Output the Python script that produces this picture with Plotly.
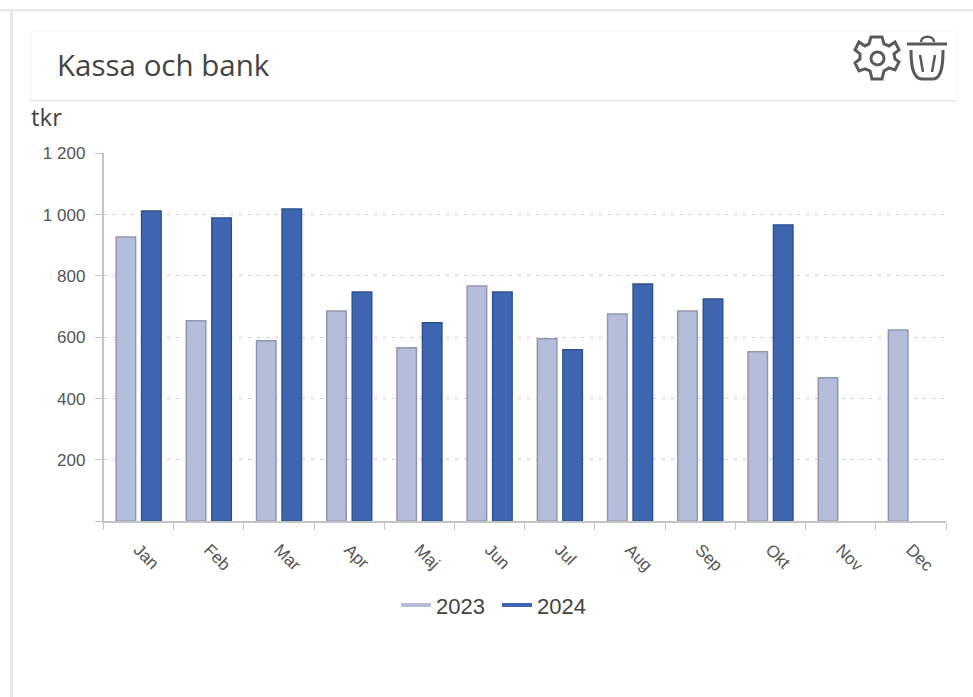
import plotly.graph_objects as go

W, H = 973, 697
TOP, DRAWN = 8, 689  # the page photographs the figure 8px down and 689px tall
months = ["Jan", "Feb", "Mar", "Apr", "Maj", "Jun", "Jul", "Aug", "Sep", "Okt", "Nov", "Dec"]
v2023 = [927, 654, 589, 686, 566, 767, 595, 676, 686, 553, 468, 624]
v2024 = [1012, 989, 1018, 748, 647, 748, 559, 774, 725, 966, None, None]
ytickvals = [0, 200, 400, 600, 800, 1000, 1200]
yticktext = ["", "200", "400", "600", "800", "1 000", "1 200"]
LIGHT, LIGHT_EDGE = "#B4BDD9", "#9097AE"
DARK, DARK_EDGE = "#3F67B1", "#2F528F"


def px(x):
    return x / W


def py(y):
    return 1 - (y - TOP) / DRAWN


def P(d):
    """Pixel path (x,y tokens) to paper coordinates."""
    out = []
    toks = d.split()
    i = 0
    while i < len(toks):
        t = toks[i]
        if t in "MLCQZ":
            out.append(t)
            i += 1
        else:
            out.append(f"{px(float(t)):.5f},{py(float(toks[i+1])):.5f}")
            i += 2
    return " ".join(out)


fig = go.Figure()
fig.add_bar(x=months, y=v2023, marker=dict(color=LIGHT, line=dict(color=LIGHT_EDGE, width=1.5)), showlegend=False)
fig.add_bar(x=months, y=v2024, marker=dict(color=DARK, line=dict(color=DARK_EDGE, width=1.5)), showlegend=False)
fig.add_scatter(x=[months[0]], y=[None], mode="lines", name="2023", line=dict(color=LIGHT, width=4))
fig.add_scatter(x=[months[0]], y=[None], mode="lines", name="2024", line=dict(color=DARK, width=4))

ICON = "#5A5A5A"
shapes = [
    dict(type="rect", xref="paper", yref="paper", x0=px(0), x1=px(973), y0=py(10.5), y1=py(8), fillcolor="#E9E9E9", line_width=0, layer="below"),
    dict(type="rect", xref="paper", yref="paper", x0=px(10), x1=px(13), y0=py(697), y1=py(8), fillcolor="#E9E9E9", line_width=0, layer="below"),
    dict(type="rect", xref="paper", yref="paper", x0=px(31), x1=px(957), y0=py(100), y1=py(30), fillcolor="white", line=dict(color="#F6F6F6", width=1), layer="below"),
    dict(type="line", xref="paper", yref="paper", x0=px(31), x1=px(957), y0=py(100), y1=py(100), line=dict(color="#E8E8E8", width=1.5), layer="below"),
    # gear
    dict(type="path", xref="paper", yref="paper", line=dict(color=ICON, width=3),
         path=P("M 871 36 L 882 36 L 884 43 L 889 45 L 895 41 L 899 49 L 894 53 L 895 58 L 899 61 L 895 69 L 889 67 L 884 70 L 882 78 L 872 78 L 870 70 L 865 68 L 859 70 L 855 62 L 860 58 L 860 53 L 855 49 L 859 41 L 865 45 L 869 43 Z")),
    dict(type="circle", xref="paper", yref="paper", x0=px(871), x1=px(884), y0=py(64), y1=py(51), line=dict(color=ICON, width=3)),
    # trash
    dict(type="line", xref="paper", yref="paper", x0=px(907), x1=px(947), y0=py(43), y1=py(43), line=dict(color=ICON, width=3)),
    dict(type="path", xref="paper", yref="paper", line=dict(color=ICON, width=2.5),
         path=P("M 921 41 C 921 34 934 34 934 41")),
    dict(type="path", xref="paper", yref="paper", line=dict(color=ICON, width=3),
         path=P("M 911 49 C 911 62 912 78 922 78 L 933 78 C 942 78 943 62 943 49")),
    dict(type="path", xref="paper", yref="paper", line=dict(color=ICON, width=2.5),
         path=P("M 920 54 L 923 71")),
    dict(type="path", xref="paper", yref="paper", line=dict(color=ICON, width=2.5),
         path=P("M 935 54 L 932 71")),
]

annotations = [
    dict(text="Kassa och bank", xref="paper", yref="paper", x=px(55), y=py(64), xanchor="left", yanchor="middle",
         showarrow=False, font=dict(family="Open Sans", size=29.5, color="#444444")),
    dict(text="tkr", xref="paper", yref="paper", x=px(29), y=py(116), xanchor="left", yanchor="middle",
         showarrow=False, font=dict(family="Open Sans", size=24, color="#444444")),
]

fig.update_layout(
    width=W, height=H, margin=dict(l=0, r=0, t=0, b=0),
    paper_bgcolor="white", plot_bgcolor="white",
    barmode="group", bargap=0.274, bargroupgap=0.235,
    font=dict(family="Liberation Sans", size=17, color="#555555"),
    shapes=shapes, annotations=annotations,
    xaxis=dict(domain=[px(103.5), px(946)], type="category", categoryorder="array", categoryarray=months,
               tickangle=45, tickson="boundaries", ticks="outside", ticklen=7, tickcolor="#C4C4C4",
               showline=True, linecolor="#C4C4C4", linewidth=1.5, showgrid=False, ticklabelstandoff=10,
               tickfont=dict(size=17, color="#555555")),
    yaxis=dict(domain=[py(521), py(152.5)], range=[0, 1200], tickvals=ytickvals, ticktext=yticktext,
               ticks="outside", ticklen=7, tickcolor="#C4C4C4", ticklabelstandoff=6,
               showline=True, linecolor="#C4C4C4", linewidth=1.5, zeroline=False,
               showgrid=True, gridcolor="#CCCCCC", griddash="3px,6px", gridwidth=1.2,
               tickfont=dict(size=17, color="#555555")),
    legend=dict(orientation="h", x=px(497), y=py(605), xanchor="center", yanchor="middle",
                font=dict(size=22, color="#444444"), itemwidth=30, entrywidth=56, bgcolor="rgba(0,0,0,0)"),
)

fig.write_html("out.html", post_script="document.body.style.margin='0';", config={"displayModeBar": False})
